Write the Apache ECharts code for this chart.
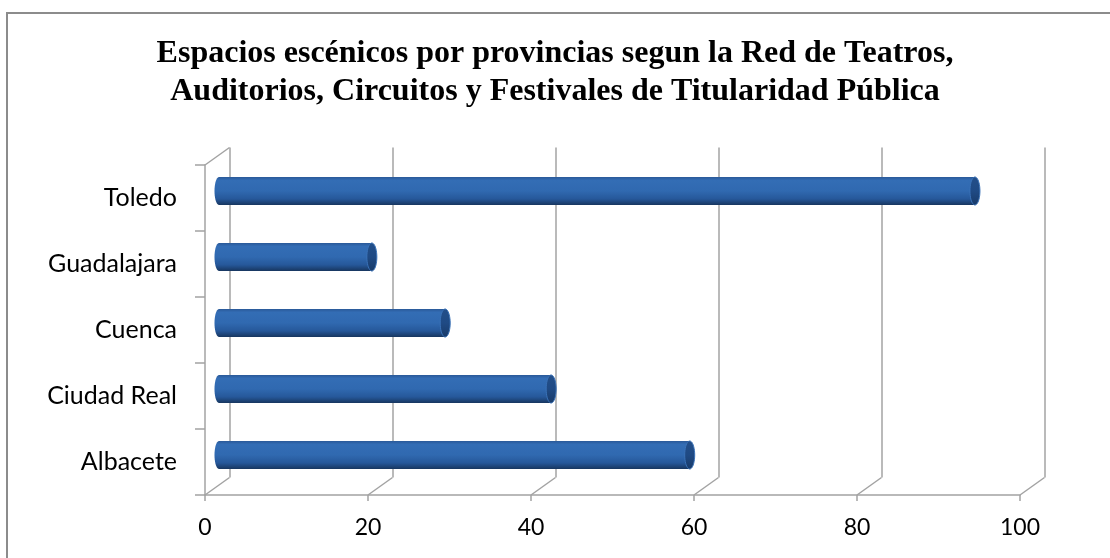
<!DOCTYPE html>
<html>
<head>
<meta charset="utf-8">
<script src="https://cdn.jsdelivr.net/npm/echarts@6/dist/echarts.min.js"></script>
<style>
html,body{margin:0;padding:0;background:#fff;}
#chart{width:1110px;height:558px;}
</style>
</head>
<body>
<div id="chart"></div>
<script>
const categories = ['Albacete', 'Ciudad Real', 'Cuenca', 'Guadalajara', 'Toledo'];
const values = [58, 41, 28, 19, 93];
const xTicks = [0, 20, 40, 60, 80, 100];
const titleText = 'Espacios escénicos por provincias segun la Red de Teatros,\nAuditorios, Circuitos y Festivales de Titularidad Pública';

const chart = echarts.init(document.getElementById('chart'), null, {renderer: 'canvas'});
const lineColor = '#a3a3a3';
const DX = 24.5, DY = 17.5;

function ellipsePts(cx, cy, rx, ry) {
  const pts = [];
  for (let k = 0; k < 40; k++) {
    const a = (k / 40) * Math.PI * 2;
    pts.push([cx + rx * Math.cos(a), cy + ry * Math.sin(a)]);
  }
  return pts;
}

const bodyGrad = () => new echarts.graphic.LinearGradient(0, 0, 0, 1, [
  {offset: 0, color: '#2a5998'},
  {offset: 0.12, color: '#336db5'},
  {offset: 0.5, color: '#3069b0'},
  {offset: 0.78, color: '#26589a'},
  {offset: 1, color: '#17365f'}
]);
const capGrad = () => new echarts.graphic.LinearGradient(0, 0, 0, 1, [
  {offset: 0, color: '#234f8a'},
  {offset: 0.5, color: '#1f4a84'},
  {offset: 1, color: '#183a68'}
]);

const option = {
  backgroundColor: '#fff',
  animation: false,
  title: {
    text: titleText,
    left: 'center',
    top: 35,
    padding: [0, 0, 0, 12],
    textStyle: {
      fontFamily: 'Liberation Serif',
      fontWeight: 'bold',
      fontSize: 32,
      lineHeight: 38,
      color: '#000'
    }
  },
  graphic: [{
    type: 'rect',
    shape: {x: 7, y: 13, width: 1110, height: 560},
    style: {fill: 'none', stroke: '#8c8c8c', lineWidth: 2},
    silent: true
  }],
  grid: [
    {left: 205, top: 165, width: 815, height: 330},
    {left: 229.5, top: 147.5, width: 815, height: 330},
    {left: 217, top: 158, width: 815, height: 330}
  ],
  xAxis: [
    {
      gridIndex: 0, type: 'value', min: 0, max: 100, interval: 20,
      axisLine: {show: true, lineStyle: {color: lineColor, width: 1.5}},
      axisTick: {show: true, length: 6, lineStyle: {color: lineColor, width: 1.5}},
      splitLine: {show: false},
      axisLabel: {fontFamily: 'Lato', fontSize: 23, color: '#000', margin: 21}
    },
    {
      gridIndex: 1, type: 'value', min: 0, max: 100, interval: 20,
      axisLine: {show: false}, axisTick: {show: false}, axisLabel: {show: false},
      splitLine: {show: true, lineStyle: {color: lineColor, width: 1.5}}
    },
    {gridIndex: 2, type: 'value', min: 0, max: 100, interval: 20, show: false, splitLine: {show: false}}
  ],
  yAxis: [
    {
      gridIndex: 0, type: 'category', data: categories,
      axisLine: {show: true, lineStyle: {color: lineColor, width: 1.5}},
      axisTick: {show: true, length: 10, lineStyle: {color: lineColor, width: 1.5}},
      axisLabel: {fontFamily: 'Lato', fontSize: 25, color: '#000', margin: 28},
      splitLine: {show: false}
    },
    {gridIndex: 1, type: 'category', data: categories, show: false},
    {gridIndex: 2, type: 'category', data: categories, show: false}
  ],
  series: [
    {
      type: 'custom',
      xAxisIndex: 0, yAxisIndex: 0,
      silent: true,
      clip: false,
      data: xTicks.map(v => [v, 0]),
      renderItem: function (params, api) {
        const v = api.value(0);
        const x = api.coord([v, 0])[0];
        const cs = params.coordSys;
        const bottom = cs.y + cs.height;
        const children = [{
          type: 'line',
          shape: {x1: x, y1: bottom, x2: x + DX, y2: bottom - DY},
          style: {stroke: lineColor, lineWidth: 1.5}
        }];
        if (v === 0) {
          children.push({
            type: 'line',
            shape: {x1: cs.x, y1: cs.y, x2: cs.x + DX, y2: cs.y - DY},
            style: {stroke: lineColor, lineWidth: 1.5}
          });
        }
        return {type: 'group', children: children};
      }
    },
    {
      type: 'custom',
      xAxisIndex: 2, yAxisIndex: 2,
      clip: false,
      data: values.map((v, i) => [v, i]),
      renderItem: function (params, api) {
        const v = api.value(0), i = api.value(1);
        const s = api.coord([0, i]);
        const e = api.coord([v, i]);
        const h = api.size([0, 1])[1] * 0.425;
        const ry = h / 2, rx = 4.5;
        const sx = s[0] + 2;
        return {
          type: 'group',
          children: [
            {type: 'polygon', shape: {points: ellipsePts(sx, s[1], rx, ry)}, style: {fill: bodyGrad()}},
            {type: 'rect', shape: {x: sx, y: s[1] - ry, width: e[0] - sx, height: h}, style: {fill: bodyGrad()}},
            {type: 'polygon', shape: {points: ellipsePts(e[0], e[1], rx + 0.5, ry)}, style: {fill: capGrad(), stroke: '#3a72b8', lineWidth: 1}}
          ]
        };
      }
    }
  ]
};
chart.setOption(option);
</script>
</body>
</html>
